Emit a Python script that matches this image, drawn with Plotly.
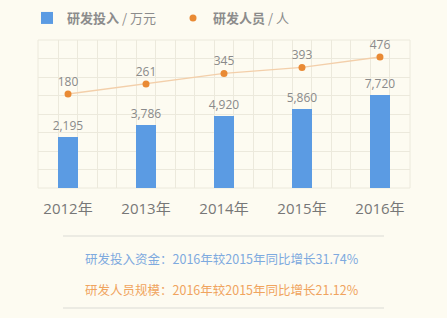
import plotly.graph_objects as go

years = ["2012年", "2013年", "2014年", "2015年", "2016年"]
rd_invest = [2195, 3786, 4920, 5860, 7720]     # 研发投入 / 万元
rd_staff = [180, 261, 345, 393, 476]           # 研发人员 / 人
note_invest = "研发投入资金：2016年较2015年同比增长31.74%"
note_staff = "研发人员规模：2016年较2015年同比增长21.12%"

BAR_BASE = -4512
xs = list(range(len(years)))

W, H = 447, 332
L, R, T, B = 38, 37, 40, 144
PH = H - T - B  # plot height in px
PW = W - L - R


def py(px):
    """pixel y (from top) -> paper y"""
    return (H - B - px) / PH


def pxx(px):
    return (px - L) / PW


cream = "#fdfbf1"
gridc = "#ece9dc"
gray = "#8a8a8a"
blue = "#5b9be3"
orange = "#e98a34"
font_num = "Open Sans, Noto Sans CJK SC"

fig = go.Figure()
fig.add_trace(go.Bar(
    x=xs, y=[v - BAR_BASE for v in rd_invest], base=BAR_BASE,
    width=0.245, marker=dict(color=blue, line=dict(width=0)),
    text=[f"{v:,}" for v in rd_invest], textposition="outside",
    constraintext="none",
    textfont=dict(color=gray, size=12, family=font_num),
    cliponaxis=False, hoverinfo="skip",
    name="<b>研发投入</b> / 万元",
))
fig.add_trace(go.Scatter(
    x=xs, y=rd_staff, yaxis="y2", mode="lines+markers+text",
    line=dict(color="#f3cfaa", width=1.3),
    marker=dict(color=orange, size=7),
    text=[str(v) for v in rd_staff], textposition="top center",
    textfont=dict(color=gray, size=12, family=font_num),
    cliponaxis=False, showlegend=False,
    name="<b>研发人员</b> / 人",
))
# legend entry for staff (dot only)
fig.add_trace(go.Scatter(
    x=[None], y=[None], yaxis="y2", mode="markers",
    marker=dict(color=orange, size=7),
    name="<b>研发人员</b> / 人",
))

shapes = [
    # cream background
    dict(type="rect", xref="paper", yref="paper", x0=pxx(0), x1=pxx(W),
         y0=py(318), y1=py(0), fillcolor=cream, line=dict(width=0), layer="below"),
    # plot border
    dict(type="rect", xref="paper", yref="paper", x0=0, x1=1, y0=0, y1=1,
         line=dict(color=gridc, width=1), layer="below"),
    dict(type="line", xref="paper", yref="paper", x0=pxx(63), x1=pxx(384),
         y0=py(236), y1=py(236), line=dict(color="#dcdcd6", width=1.2)),
    dict(type="line", xref="paper", yref="paper", x0=pxx(63), x1=pxx(384),
         y0=py(308), y1=py(308), line=dict(color="#dcdcd6", width=1.2)),
]

annotations = [
    dict(text=note_invest, xref="paper", yref="paper", x=pxx(222), y=py(258),
         xanchor="center", yanchor="middle", showarrow=False,
         font=dict(color="#7eaadf", size=12.5, family="Noto Sans CJK SC")),
    dict(text=note_staff, xref="paper", yref="paper", x=pxx(222), y=py(289),
         xanchor="center", yanchor="middle", showarrow=False,
         font=dict(color="#f0a45e", size=12.5, family="Noto Sans CJK SC")),
]

fig.update_layout(
    width=W, height=H,
    margin=dict(l=L, r=R, t=T, b=B, pad=0, autoexpand=False),
    paper_bgcolor="white", plot_bgcolor="rgba(0,0,0,0)",
    showlegend=True,
    legend=dict(orientation="h", x=pxx(27), y=py(18), xanchor="left", yanchor="middle",
                font=dict(color="#8c8c8c", size=13, family="Noto Sans CJK SC"),
                bgcolor="rgba(0,0,0,0)", itemwidth=30, tracegroupgap=0,
                entrywidth=101, entrywidthmode="pixels",
                traceorder="normal"),
    xaxis=dict(range=[-0.385, 4.385], tickmode="array", tickvals=xs, ticktext=years,
               showgrid=False, zeroline=False, showline=False, ticks="",
               tickfont=dict(color="#777777", size=15, family=font_num),
               ticklabelstandoff=10,
               minor=dict(dtick=0.25, tick0=0.125, showgrid=True, gridcolor=gridc, gridwidth=1)),
    yaxis=dict(range=[BAR_BASE, 14960], dtick=2434, tick0=BAR_BASE,
               showgrid=True, gridcolor=gridc, zeroline=False,
               showticklabels=False, showline=False),
    yaxis2=dict(range=[-572, 612], overlaying="y", side="right",
                showgrid=False, zeroline=False, showticklabels=False),
    shapes=shapes, annotations=annotations,
    bargap=0,
)

fig.write_html("out.html")
